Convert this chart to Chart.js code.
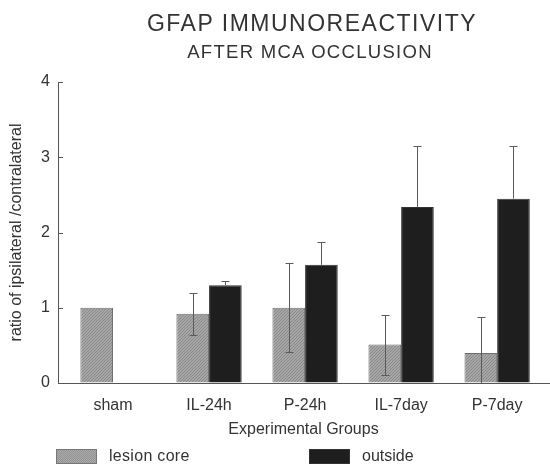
<!DOCTYPE html>
<html>
<head>
<meta charset="utf-8">
<script src="https://cdn.jsdelivr.net/npm/chart.js@4.4.1/dist/chart.umd.min.js"></script>
<style>
html,body{margin:0;padding:0;background:#fff;}
#wrap{position:relative;width:550px;height:466px;overflow:hidden;font-family:"Liberation Sans",Arial,sans-serif;color:#333;}
#c{position:absolute;left:0;top:0;}
.t{position:absolute;white-space:nowrap;transform:translateX(-50%);}
#title{left:312px;top:12px;font-size:23px;line-height:23px;letter-spacing:1.5px;}
#subtitle{left:310px;top:43px;font-size:18.5px;line-height:18.5px;letter-spacing:1.3px;}
.sw{position:absolute;top:449px;width:39px;height:13px;border:1px solid #555;box-sizing:content-box;}
#sw1{left:56px;background-color:#9e9e9e;background-image:repeating-conic-gradient(#939393 0 25%,#aaaaaa 0 50%);background-size:2px 2px;border-color:#777;}
#sw2{left:309px;background:#1e1e1e;border-color:#333;}
.lt{position:absolute;top:448px;font-size:16px;line-height:16px;}
#lt1{left:109px;letter-spacing:0.3px;}
#lt2{left:362px;}
</style>
</head>
<body>
<div id="wrap">
<canvas id="c" width="550" height="466"></canvas>
<div id="title" class="t">GFAP IMMUNOREACTIVITY</div>
<div id="subtitle" class="t">AFTER MCA OCCLUSION</div>
<div id="sw1" class="sw"></div><div id="lt1" class="lt">lesion core</div>
<div id="sw2" class="sw"></div><div id="lt2" class="lt">outside</div>
</div>
<script>
const groups = ['sham', 'IL-24h', 'P-24h', 'IL-7day', 'P-7day'];
const seriesNames = ['lesion core', 'outside'];
const lesion = [1.00, 0.92, 1.00, 0.51, 0.40];
const lesionErr = [0, 0.28, 0.59, 0.40, 0.48];
const outside = [null, 1.30, 1.57, 2.34, 2.45];
const outsideErr = [null, 0.06, 0.30, 0.81, 0.70];
const yTicks = [0, 1, 2, 3, 4];
const xTitle = 'Experimental Groups';
const yTitle = 'ratio of ipsilateral /contralateral';

const FONT = '"Liberation Sans", Arial, sans-serif';
const TXT = '#333';
const AXIS = '#555';

const canvas = document.getElementById('c');
const ctx0 = canvas.getContext('2d');
function stipple() {
  const c = document.createElement('canvas');
  c.width = 3; c.height = 3;
  const g = c.getContext('2d');
  g.fillStyle = '#a6a6a6'; g.fillRect(0, 0, 3, 3);
  g.fillStyle = '#8a8a8a';
  g.fillRect(0, 0, 1, 1); g.fillRect(2, 1, 1, 1); g.fillRect(1, 2, 1, 1);
  return ctx0.createPattern(c, 'repeat');
}

const errs = [lesionErr, outsideErr];

const errorBars = {
  id: 'errorBars',
  afterDatasetsDraw(chart) {
    const ctx = chart.ctx;
    const y = chart.scales.y;
    const area = chart.chartArea;
    ctx.save();
    ctx.strokeStyle = '#5a5a5a';
    ctx.lineWidth = 1;
    chart.data.datasets.forEach((ds, d) => {
      const meta = chart.getDatasetMeta(d);
      meta.data.forEach((bar, i) => {
        const v = ds.data[i] && ds.data[i].y;
        const e = errs[d][i];
        if (v == null || !e) return;
        const x = Math.round(bar.x) + 0.5;
        const yt = Math.round(y.getPixelForValue(v + e)) + 0.5;
        const yv = y.getPixelForValue(v);
        let yb = yv;
        let lowCap = false;
        if (d === 0) {
          const lo = v - e;
          if (lo > 0) { yb = Math.round(y.getPixelForValue(lo)) + 0.5; lowCap = true; }
          else { yb = area.bottom; }
        }
        ctx.beginPath();
        ctx.moveTo(x, yt); ctx.lineTo(x, yb);
        ctx.moveTo(x - 4, yt); ctx.lineTo(x + 4, yt);
        if (lowCap) { ctx.moveTo(x - 4, yb); ctx.lineTo(x + 4, yb); }
        ctx.stroke();
      });
    });
    // inward tick marks on the y axis
    ctx.strokeStyle = AXIS;
    y.ticks.forEach(t => {
      if (t.value === 0) return;
      const py = Math.round(y.getPixelForValue(t.value)) + 0.5;
      ctx.beginPath();
      ctx.moveTo(area.left, py); ctx.lineTo(area.left + 5, py);
      ctx.stroke();
    });
    ctx.restore();
  }
};

new Chart(canvas, {
  type: 'bar',
  data: {
    datasets: [
      {
        label: seriesNames[0],
        data: groups.map((g, i) => ({ x: i, y: lesion[i] })),
        backgroundColor: stipple(),
        borderColor: '#6e6e6e',
        borderWidth: 1,
        barPercentage: 1,
        categoryPercentage: 0.68
      },
      {
        label: seriesNames[1],
        data: groups.map((g, i) => ({ x: i, y: outside[i] })),
        backgroundColor: '#1e1e1e',
        borderColor: '#333',
        borderWidth: 1,
        barPercentage: 1,
        categoryPercentage: 0.68
      }
    ]
  },
  options: {
    responsive: false,
    animation: false,
    layout: { padding: { top: 82, right: 1, bottom: 0, left: 0 } },
    plugins: { legend: { display: false }, tooltip: { enabled: false } },
    scales: {
      x: {
        type: 'linear',
        offset: false,
        min: -0.573,
        max: 4.54,
        afterBuildTicks: s => { s.ticks = groups.map((g, i) => ({ value: i })); },
        afterFit: s => { s.height = 83; },
        ticks: {
          callback: v => groups[Math.round(v)],
          autoSkip: false, maxRotation: 0,
          font: { family: FONT, size: 16 }, color: TXT, padding: 13
        },
        grid: { display: true, drawOnChartArea: false, drawTicks: false },
        border: { display: true, color: AXIS, width: 1 },
        title: {
          display: true, text: xTitle,
          font: { family: FONT, size: 16 }, color: TXT,
          padding: { top: 0, bottom: 27 }
        }
      },
      y: {
        min: 0, max: 4,
        afterBuildTicks: s => { s.ticks = yTicks.map(v => ({ value: v })); },
        afterFit: s => { s.width = 58; },
        ticks: { font: { family: FONT, size: 16 }, color: TXT, padding: 8 },
        grid: { display: true, drawOnChartArea: false, drawTicks: false },
        border: { display: true, color: AXIS, width: 1 },
        title: {
          display: true, text: yTitle,
          font: { family: FONT, size: 16 }, color: TXT,
          padding: { top: 7, bottom: 0 }
        }
      }
    }
  },
  plugins: [errorBars]
});
</script>
</body>
</html>
